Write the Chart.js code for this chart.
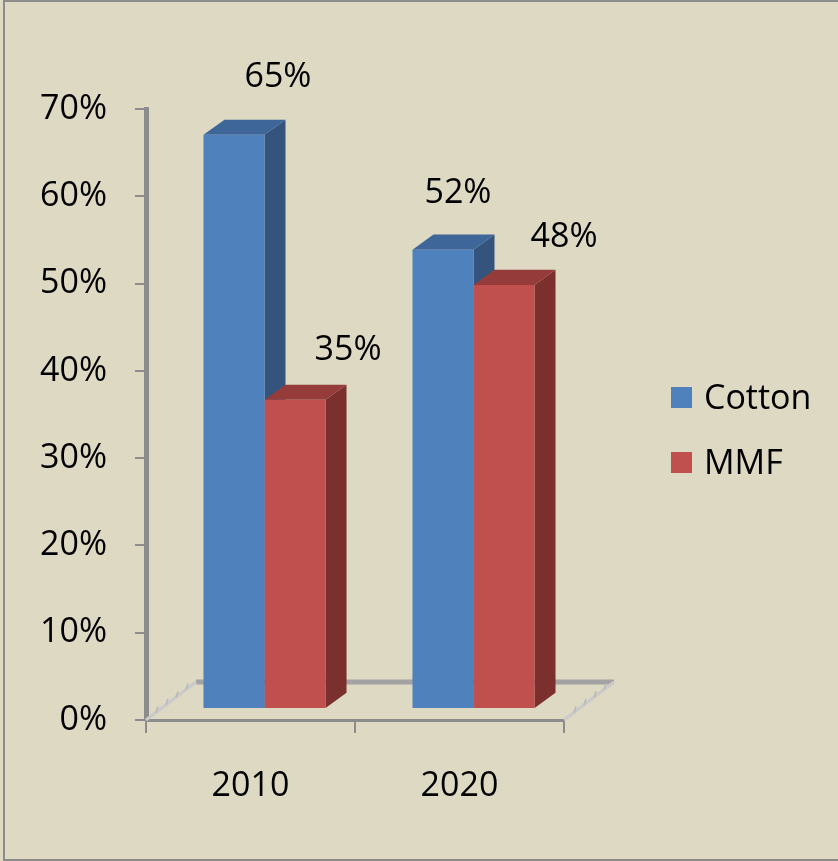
<!DOCTYPE html>
<html>
<head>
<meta charset="utf-8">
<script src="https://cdn.jsdelivr.net/npm/chart.js@4.4.1/dist/chart.umd.min.js"></script>
<style>
  html, body { margin: 0; padding: 0; background: #ddd9c3; }
  #wrap { width: 838px; height: 861px; }
</style>
</head>
<body>
<div id="wrap"><canvas id="fibreChart" width="838" height="861"></canvas></div>
<script>
// Fibre share by year
const years = ['2010', '2020'];
const cottonShare = [65, 52];
const mmfShare = [35, 48];
const yTicks = [0, 10, 20, 30, 40, 50, 60, 70];

const FONT = '"Open Sans", "Liberation Sans", sans-serif';
const FONT_SIZE = 34;
const AXIS_GREY = '#8c8c8c';

// front / top / side colours for each series
const faces = [
    { front: '#4f81bd', top: '#3e6699', side: '#34547d' },
    { front: '#c0504d', top: '#953c3a', side: '#7b302e' }
];

// fake 3d settings
const BAR_DEPTH = { x: 21, y: -15 };
const FLOOR_DEPTH = { x: 50, y: -38 };
const BAR_SHIFT = { x: 14, y: -11, k: 1.012 };
// where each value label sits relative to the top of its bar front
const labelNudge = [
    [[44, -58], [15, -56]],
    [[53, -50], [60, -48]]
];

function barTransform(ctx, area) {
    const base = area.bottom;
    ctx.translate(BAR_SHIFT.x, BAR_SHIFT.y + base * (1 - BAR_SHIFT.k));
    ctx.scale(1, BAR_SHIFT.k);
}

const pseudo3d = {
    id: 'pseudo3d',
    beforeDraw(chart) {
        const { ctx, width, height } = chart;
        ctx.save();
        ctx.fillStyle = '#ddd9c3';
        ctx.fillRect(0, 0, width, height);
        ctx.strokeStyle = AXIS_GREY;
        ctx.lineWidth = 2;
        ctx.strokeRect(4, 1, width + 10, height - 2);
        ctx.restore();
    },
    beforeDatasetsDraw(chart) {
        const { ctx, chartArea: a } = chart;
        // floor: back edge and the two sloped sides
        ctx.save();
        ctx.strokeStyle = '#a3a3a3';
        ctx.lineWidth = 5;
        ctx.beginPath();
        ctx.moveTo(a.left + FLOOR_DEPTH.x, a.bottom + FLOOR_DEPTH.y);
        ctx.lineTo(a.right + FLOOR_DEPTH.x, a.bottom + FLOOR_DEPTH.y);
        ctx.stroke();
        [a.left, a.right].forEach(x0 => {
            ctx.strokeStyle = '#cacaca';
            ctx.lineWidth = 3;
            ctx.beginPath();
            ctx.moveTo(x0, a.bottom);
            ctx.lineTo(x0 + FLOOR_DEPTH.x, a.bottom + FLOOR_DEPTH.y);
            ctx.stroke();
            ctx.lineWidth = 1.5;
            ctx.strokeStyle = '#b8b8b8';
            for (let t = 0.2; t < 1; t += 0.2) {
                const x = x0 + FLOOR_DEPTH.x * t, y = a.bottom + FLOOR_DEPTH.y * t;
                ctx.beginPath();
                ctx.moveTo(x, y);
                ctx.lineTo(x + 2, y - 6);
                ctx.stroke();
            }
        });
        ctx.restore();

        // top and side faces, front faces come from the library on top of them
        ctx.save();
        barTransform(ctx, a);
        chart.data.labels.forEach((_, i) => {
            chart.data.datasets.forEach((ds, d) => {
                const bar = chart.getDatasetMeta(d).data[i];
                const half = bar.width / 2;
                const l = bar.x - half, r = bar.x + half, t = bar.y, b = bar.base;
                const dx = BAR_DEPTH.x, dy = BAR_DEPTH.y;
                ctx.fillStyle = faces[d].side;
                ctx.beginPath();
                ctx.moveTo(r, t);
                ctx.lineTo(r + dx, t + dy);
                ctx.lineTo(r + dx, b + dy);
                ctx.lineTo(r, b);
                ctx.closePath();
                ctx.fill();
                ctx.fillStyle = faces[d].top;
                ctx.beginPath();
                ctx.moveTo(l, t);
                ctx.lineTo(l + dx, t + dy);
                ctx.lineTo(r + dx, t + dy);
                ctx.lineTo(r, t);
                ctx.closePath();
                ctx.fill();
            });
        });
        // keep the transform for the front faces
    },
    afterDatasetsDraw(chart) {
        const { ctx } = chart;
        ctx.restore();

        // value labels
        ctx.save();
        ctx.font = FONT_SIZE + 'px ' + FONT;
        ctx.fillStyle = '#000';
        ctx.textAlign = 'center';
        ctx.textBaseline = 'middle';
        const a = chart.chartArea;
        chart.data.datasets.forEach((ds, d) => {
            chart.getDatasetMeta(d).data.forEach((bar, i) => {
                const x = bar.x + BAR_SHIFT.x;
                const y = a.bottom + BAR_SHIFT.y - (a.bottom - bar.y) * BAR_SHIFT.k;
                const [ox, oy] = labelNudge[d][i];
                ctx.fillText(ds.data[i] + '%', x + ox, y + oy);
            });
        });

        // legend
        ctx.textAlign = 'left';
        chart.data.datasets.forEach((ds, d) => {
            const y = 398 + d * 65;
            ctx.fillStyle = faces[d].front;
            ctx.fillRect(671, y - 11, 21, 21);
            ctx.fillStyle = '#000';
            ctx.fillText(ds.label, 704, y + 1);
        });
        ctx.restore();
    }
};

const ctx = document.getElementById('fibreChart').getContext('2d');
const fibreChart = new Chart(ctx, {
    type: 'bar',
    data: {
        labels: years,
        datasets: [
            { label: 'Cotton', data: cottonShare, backgroundColor: faces[0].front },
            { label: 'MMF', data: mmfShare, backgroundColor: faces[1].front }
        ]
    },
    options: {
        responsive: false,
        animation: false,
        devicePixelRatio: 1,
        layout: { padding: { left: 0, top: 109, right: 274, bottom: 0 } },
        datasets: {
            bar: { categoryPercentage: 0.584, barPercentage: 1, borderWidth: 0, clip: false }
        },
        plugins: {
            legend: { display: false },
            tooltip: { enabled: false }
        },
        scales: {
            x: {
                afterFit(scale) { scale.height = 141; },
                grid: {
                    drawOnChartArea: false,
                    drawTicks: true,
                    tickLength: 13,
                    color: AXIS_GREY,
                    lineWidth: 2
                },
                border: { display: true, color: AXIS_GREY, width: 3 },
                ticks: { color: '#000', font: { family: FONT, size: FONT_SIZE }, padding: 33 }
            },
            y: {
                min: 0,
                max: 70,
                afterFit(scale) { scale.width = 146; },
                afterBuildTicks(scale) { scale.ticks = yTicks.map(v => ({ value: v })); },
                grid: {
                    drawOnChartArea: false,
                    drawTicks: true,
                    tickLength: 11,
                    color: AXIS_GREY,
                    lineWidth: 2
                },
                border: { display: true, color: AXIS_GREY, width: 5 },
                ticks: {
                    color: '#000',
                    font: { family: FONT, size: FONT_SIZE },
                    padding: 28,
                    callback: v => v + '%'
                }
            }
        }
    },
    plugins: [pseudo3d]
});
</script>
</body>
</html>
